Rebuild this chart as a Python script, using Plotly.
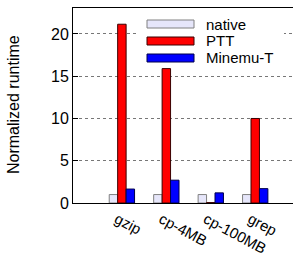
import plotly.graph_objects as go

categories = ["gzip", "cp-4MB", "cp-100MB", "grep"]
native = [1.0, 1.0, 1.0, 1.0]
ptt = [21.15, 15.9, 0.05, 10.0]
minemu = [1.65, 2.7, 1.2, 1.7]
series_names = ["native", "PTT", "Minemu-T"]
y_ticks = [0, 5, 10, 15, 20]

fill_colors = ["#E6E6FA", "#FF0000", "#0000FF"]
line_colors = ["#808080", "#3a0000", "#00004a"]

FONT = "Liberation Sans, Arial, Helvetica, sans-serif"

W, H = 293, 253
ML, MR, MT, MB = 73, 0, 8, 50
PW, PH = W - ML - MR, H - MT - MB


def px_x(px):
    return (px - ML) / PW


def px_y(py):
    return (H - MB - py) / PH


fig = go.Figure()
for name, vals, fc, lc in zip(series_names, [native, ptt, minemu], fill_colors, line_colors):
    fig.add_trace(go.Bar(
        x=categories, y=vals, name=name,
        marker=dict(color=fc, line=dict(color=lc, width=1)),
        showlegend=False,
    ))

shapes = [dict(type="rect", xref="paper", yref="paper",
               x0=px_x(136), x1=px_x(284), y0=px_y(66), y1=px_y(11),
               fillcolor="white", line=dict(width=0), layer="above")]
annotations = []
legend_y = [24, 41, 58]
for name, fc, lc, cy in zip(series_names, fill_colors, line_colors, legend_y):
    shapes.append(dict(type="rect", xref="paper", yref="paper",
                       x0=px_x(147), x1=px_x(194), y0=px_y(cy + 4), y1=px_y(cy - 4),
                       fillcolor=fc, line=dict(color=lc, width=1), layer="above"))
    annotations.append(dict(xref="paper", yref="paper", x=px_x(204), y=px_y(cy),
                            text=name, showarrow=False, xanchor="left", yanchor="middle",
                            font=dict(family=FONT, size=15, color="black")))

# y-axis title placed at the reference position
annotations.append(dict(xref="paper", yref="paper", x=px_x(13), y=px_y(105),
                        text="Normalized runtime", showarrow=False, textangle=-90,
                        xanchor="center", yanchor="middle",
                        font=dict(family=FONT, size=16, color="black")))

fig.update_layout(
    width=W, height=H,
    margin=dict(l=ML, r=MR, t=MT, b=MB),
    paper_bgcolor="white", plot_bgcolor="white",
    barmode="group", bargap=0.43, bargroupgap=0.0,
    font=dict(family=FONT, size=15, color="black"),
    shapes=shapes, annotations=annotations,
    xaxis=dict(
        type="category", categoryorder="array", categoryarray=categories,
        range=[-1.1, 3.85], showline=True, linecolor="black", linewidth=1,
        mirror=True, showgrid=False, ticks="", tickangle=28,
        ticklabelshift=-5, ticklabelstandoff=1, automargin=False,
        tickfont=dict(family=FONT, size=15),
    ),
    yaxis=dict(
        range=[0, 23.07], tickvals=y_ticks, showline=True, linecolor="black",
        linewidth=1, mirror=False, showgrid=True, gridcolor="#777777",
        griddash="dot", gridwidth=1, ticks="inside", ticklen=5, tickcolor="black",
        zeroline=False, tickfont=dict(family=FONT, size=16), automargin=False,
    ),
)

fig.write_html("out.html", config={"displayModeBar": False},
               post_script="document.body.style.margin='0';document.body.style.overflow='hidden';")
